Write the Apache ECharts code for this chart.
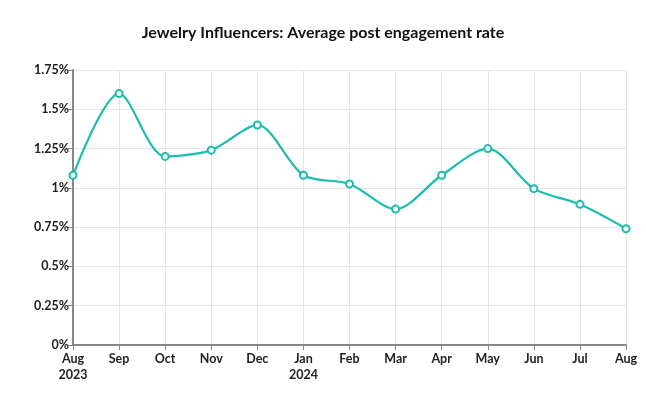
<!DOCTYPE html>
<html>
<head>
<meta charset="utf-8">
<script src="https://cdn.jsdelivr.net/npm/echarts@6/dist/echarts.min.js"></script>
<style>
html,body{margin:0;padding:0;background:#fff;}
#main{width:646px;height:399px;}
</style>
</head>
<body>
<div id="main"></div>
<script>
const categories = ['Aug\n2023','Sep','Oct','Nov','Dec','Jan\n2024','Feb','Mar','Apr','May','Jun','Jul','Aug'];
const engagementRate = [1.08, 1.60, 1.20, 1.24, 1.40, 1.08, 1.025, 0.865, 1.08, 1.25, 0.995, 0.895, 0.74];
const yTicks = [0, 0.25, 0.5, 0.75, 1, 1.25, 1.5, 1.75];

const chart = echarts.init(document.getElementById('main'), null, {renderer:'canvas'});
const FONT = 'Lato, "Open Sans", sans-serif';
chart.setOption({
  animation: false,
  backgroundColor: '#fff',
  title: {
    text: 'Jewelry Influencers: Average post engagement rate',
    left: 'center',
    top: 20,
    textStyle: {fontFamily: FONT, fontSize: 16, fontWeight: 'bold', color: '#111'}
  },
  grid: {left: 73, right: 20, top: 70, bottom: 54},
  xAxis: {
    type: 'category',
    data: categories,
    boundaryGap: false,
    axisLine: {lineStyle: {color: '#888', width: 2}},
    axisTick: {show: true, length: 5, lineStyle: {color: '#888'}},
    axisLabel: {fontFamily: FONT, fontSize: 12.5, fontWeight: 'bold', color: '#222', margin: 6, lineHeight: 16, interval: 0},
    splitLine: {show: true, lineStyle: {color: '#e5e5e5'}}
  },
  yAxis: {
    type: 'value',
    min: yTicks[0],
    max: yTicks[yTicks.length - 1],
    interval: 0.25,
    axisLine: {show: true, lineStyle: {color: '#888', width: 2}},
    axisTick: {show: true, length: 5, lineStyle: {color: '#888'}},
    axisLabel: {fontFamily: FONT, fontSize: 12.5, fontWeight: 'bold', color: '#222', margin: 4,
      formatter: v => String(v) + '%'},
    splitLine: {show: true, lineStyle: {color: '#e5e5e5'}}
  },
  series: [{
    type: 'line',
    data: engagementRate,
    smooth: 0.3,
    symbol: 'circle',
    symbolSize: 7,
    itemStyle: {color: '#fff', borderColor: '#1dbdac', borderWidth: 2},
    lineStyle: {color: '#1dbdac', width: 2.2}
  }]
});
</script>
</body>
</html>
